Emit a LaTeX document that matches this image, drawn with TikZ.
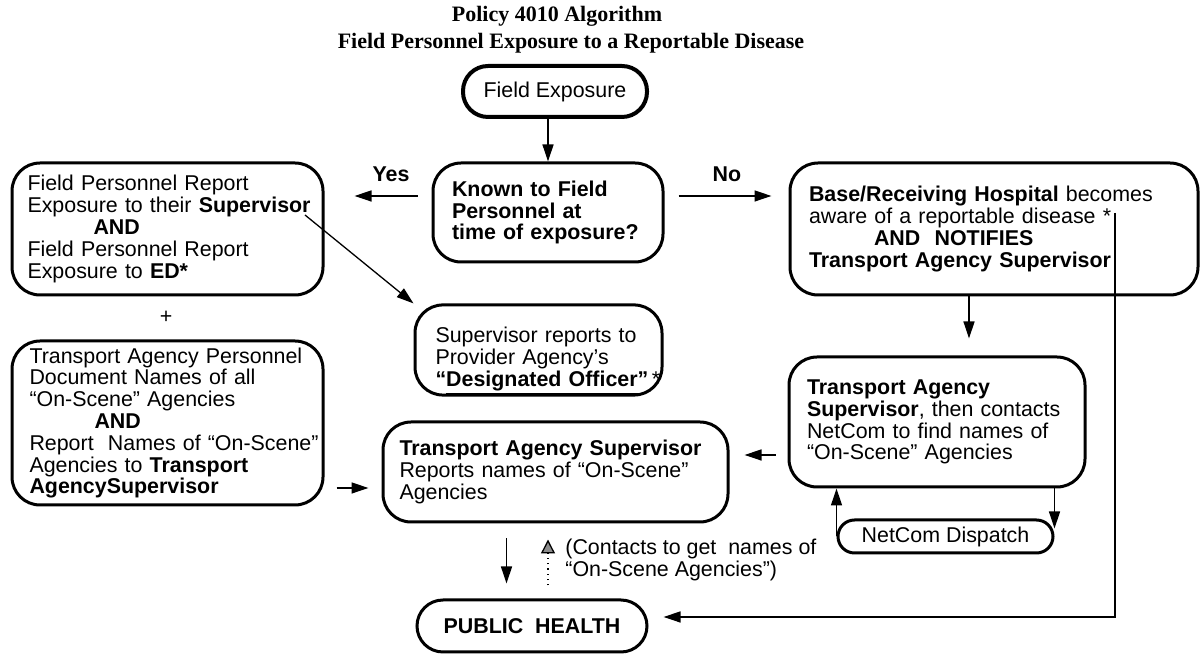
\documentclass[tikz,border=0pt]{standalone}
\usepackage{fontspec}
\setmainfont{Liberation Sans}
\newfontfamily\titlefont{Liberation Serif}
\usetikzlibrary{arrows.meta,positioning,calc}
\hyphenpenalty=10000
\exhyphenpenalty=10000

\begin{document}
\begin{tikzpicture}[
x=0.5pt, y=-0.5pt,
every node/.style={font=\fontsize{10.7}{10.9}\selectfont},
titletext/.style={font=\titlefont\bfseries\fontsize{11}{13}\selectfont, inner sep=0pt},
flowbox/.style={draw, line width=1.5pt, rounded corners=14pt, align=left, inner sep=0pt},
pill/.style={draw, line width=1.5pt, align=center, inner sep=0pt},
boldtext/.style={font=\fontsize{10.7}{10.9}\selectfont\bfseries},
lbl/.style={font=\fontsize{10.7}{10.9}\selectfont\bfseries, inner sep=0pt},
arrow/.style={-{Triangle[length=8.5pt,width=5.5pt]}, line width=0.65pt}
]
\useasboundingbox (0,0) rectangle (1201,656);

\node[titletext] (title) at (557,16) {Policy 4010 Algorithm};
\node[titletext] (subtitle) at (571,43) {Field Personnel Exposure to a Reportable Disease};

\node[pill, line width=2pt, rounded corners=12.5pt, minimum width=92pt, minimum height=25.5pt] (fieldexp) at (555,91.5) {Field Exposure};
\node[flowbox, boldtext, minimum width=115pt, minimum height=49.5pt, text width=96pt] (known) at (548,212.5) {Known to Field\\Personnel at\\time of exposure?};
\node[lbl] (yes) at (391,174) {Yes};
\node[lbl] (no) at (727,174) {No};

\node[flowbox, minimum width=155.5pt, minimum height=66pt, text width=140pt] (report) at (167.5,229) {Field Personnel Report\\\mbox{Exposure to their \textbf{Supervisor}}\\\hspace*{33pt}\textbf{AND}\\Field Personnel Report\\Exposure to \textbf{ED*}};
\node (plus) at (166,317) {+};
\node[flowbox, minimum width=155.5pt, minimum height=82pt, text width=138pt] (onscene) at (167.5,423) {\mbox{Transport Agency Personnel}\\Document Names of all\\“On-Scene” Agencies\\\hspace*{32.5pt}\textbf{AND}\\\mbox{Report\ \ Names of “On-Scene”}\\Agencies to \textbf{Transport}\\\textbf{AgencySupervisor}};

\node[flowbox, minimum width=204pt, minimum height=66pt, text width=185pt] (hospital) at (994,229) {\textbf{Base/Receiving Hospital} becomes\\aware of a reportable disease *\\\hspace*{32.5pt}\textbf{AND\ \ NOTIFIES}\\\textbf{Transport Agency Supervisor}\par\vspace*{5.5pt}};
\node[flowbox, minimum width=123.5pt, minimum height=42pt, text width=103pt] (officer) at (538.5,350) {\rule{0pt}{19pt}\mbox{Supervisor reports to}\\Provider Agency's\\\mbox{\textbf{“\underline{Designated Officer}”}\,*}};
\node[flowbox, minimum width=148pt, minimum height=65pt, text width=130pt] (netcontact) at (937,422) {\textbf{Transport Agency}\\\mbox{\textbf{Supervisor}, then contacts}\\NetCom to find names of\\“On-Scene” Agencies};
\node[flowbox, minimum width=172.5pt, minimum height=50pt, text width=156pt] (supreport) at (555.5,472) {\mbox{\textbf{Transport Agency Supervisor}}\\Reports names of “On-Scene”\\Agencies};
\node[pill, rounded corners=8.25pt, minimum width=107.5pt, minimum height=16.5pt] (netcom) at (945.5,536.5) {NetCom Dispatch};
\node[pill, boldtext, rounded corners=13pt, minimum width=115pt, minimum height=26pt] (health) at (532,626) {PUBLIC\ \ HEALTH};
\node[align=left, anchor=north west, inner sep=0pt] (contacts) at (565,539) {(Contacts to get\ \ names of\\“On-Scene Agencies”)};

\coordinate (yesrow) at (0,196);
\coordinate (noterow) at (0,455);
\coordinate (joinrow) at (0,488);
\coordinate (supend) at (305,215);
\coordinate (hospend) at (1115,213);

\draw[arrow] (fieldexp.south -| known.north) -- (known.north);
\draw[arrow, shorten <=7pt, shorten >=15pt] (known.west |- yesrow) -- (report.east |- yesrow);
\draw[arrow, shorten <=7pt, shorten >=8.5pt] (known.east |- yesrow) -- (hospital.west |- yesrow);
\draw[arrow] (supend) -- (officer.north west);
\draw[arrow, shorten >=8.5pt] ([xshift=-12.5pt]hospital.south) -- ([xshift=-12.5pt]hospital.south |- netcontact.north);
\draw[arrow, shorten <=6pt, shorten >=7.5pt] (netcontact.west |- noterow) -- (supreport.east |- noterow);
\draw[arrow, shorten <=6pt, shorten >=6.5pt] (onscene.east |- joinrow) -- (supreport.west |- joinrow);
\draw[arrow] (netcom.west) -- (netcom.west |- netcontact.south);
\draw[arrow] (netcom.east |- netcontact.south) -- ([yshift=4pt]netcom.east);
\draw[arrow, shorten <=7.5pt, shorten >=7.5pt] ([xshift=-24.5pt]supreport.south) -- ([xshift=-24.5pt]supreport.south |- health.north);
\draw[dotted, line width=0.65pt, -{Triangle[length=7pt,width=7pt,fill=black!45]}, shorten <=6.5pt, shorten >=8pt] ([xshift=8pt]health.north) -- ([xshift=8pt]health.north |- supreport.south);
\draw[arrow, shorten >=7.5pt] (hospend) |- ([yshift=4.5pt]health.east);
\end{tikzpicture}
\end{document}
